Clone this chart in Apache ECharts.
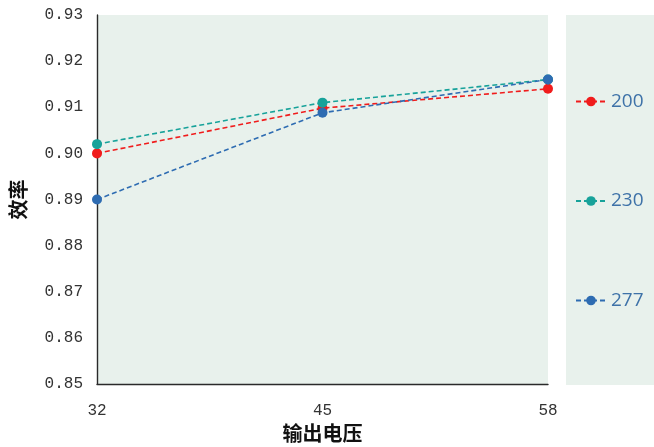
<!DOCTYPE html>
<html><head><meta charset="utf-8">
<script src="https://cdn.jsdelivr.net/npm/echarts@6/dist/echarts.min.js"></script>
<style>html,body{margin:0;padding:0;background:#fff}#c{width:654px;height:447px}</style>
</head><body><div id="c"></div>
<script>
const categories = ['32', '45', '58'];
const seriesNames = ['200', '230', '277'];
const s200 = [0.900, 0.9098, 0.914];
const s230 = [0.902, 0.911, 0.916];
const s277 = [0.890, 0.9088, 0.916];
const yTicks = [0.85, 0.86, 0.87, 0.88, 0.89, 0.90, 0.91, 0.92, 0.93];
const colors = ['#f01c1c', '#17a29a', '#2e6cb2'];
const values = [s200, s230, s277];

const chart = echarts.init(document.getElementById('c'));
const mono = 'Liberation Mono';
chart.setOption({
  animation: false,
  graphic: [{ type: 'rect', left: 566, top: 15, shape: { width: 88, height: 370 }, style: { fill: '#e8f1ec' }, silent: true, z: -10 }],
  grid: { left: 97, right: 106, top: 15, bottom: 63, show: true, backgroundColor: '#e8f1ec', borderWidth: 0, outerBoundsMode: 'none', containLabel: false },
  legend: {
    orient: 'vertical', left: 570, top: 87, itemGap: 80.5, itemWidth: 30, itemHeight: 12,
    data: seriesNames,
    textStyle: { fontSize: 19, color: '#3e72a8', fontFamily: 'Open Sans' }
  },
  xAxis: {
    type: 'category', data: categories, boundaryGap: false,
    name: '输出电压', nameLocation: 'middle', nameGap: 36,
    nameTextStyle: { fontSize: 20, fontWeight: 'bold', color: '#111', fontFamily: 'Noto Sans CJK SC' },
    axisLine: { lineStyle: { color: '#2a2a2a', width: 1.4 } },
    axisTick: { show: false },
    axisLabel: { fontSize: 16, color: '#333', fontFamily: mono, margin: 19 },
    splitLine: { show: false }
  },
  yAxis: {
    type: 'value', min: yTicks[0], max: yTicks[yTicks.length - 1], interval: 0.01,
    name: '效率', nameLocation: 'middle', nameGap: 69, nameRotate: 90,
    nameTextStyle: { fontSize: 20, fontWeight: 'bold', color: '#111', fontFamily: 'Noto Sans CJK SC' },
    axisLine: { show: true, lineStyle: { color: '#2a2a2a', width: 1.4 } },
    axisTick: { show: false },
    axisLabel: { fontSize: 16, color: '#333', fontFamily: mono, margin: 14, formatter: v => v.toFixed(2) },
    splitLine: { show: false }
  },
  series: seriesNames.map((n, i) => ({
    name: n, type: 'line', data: values[i],
    symbol: 'circle', symbolSize: 10,
    itemStyle: { color: colors[i] },
    lineStyle: { color: colors[i], width: 1.6, type: [5, 3] }
  }))
});
</script></body></html>
